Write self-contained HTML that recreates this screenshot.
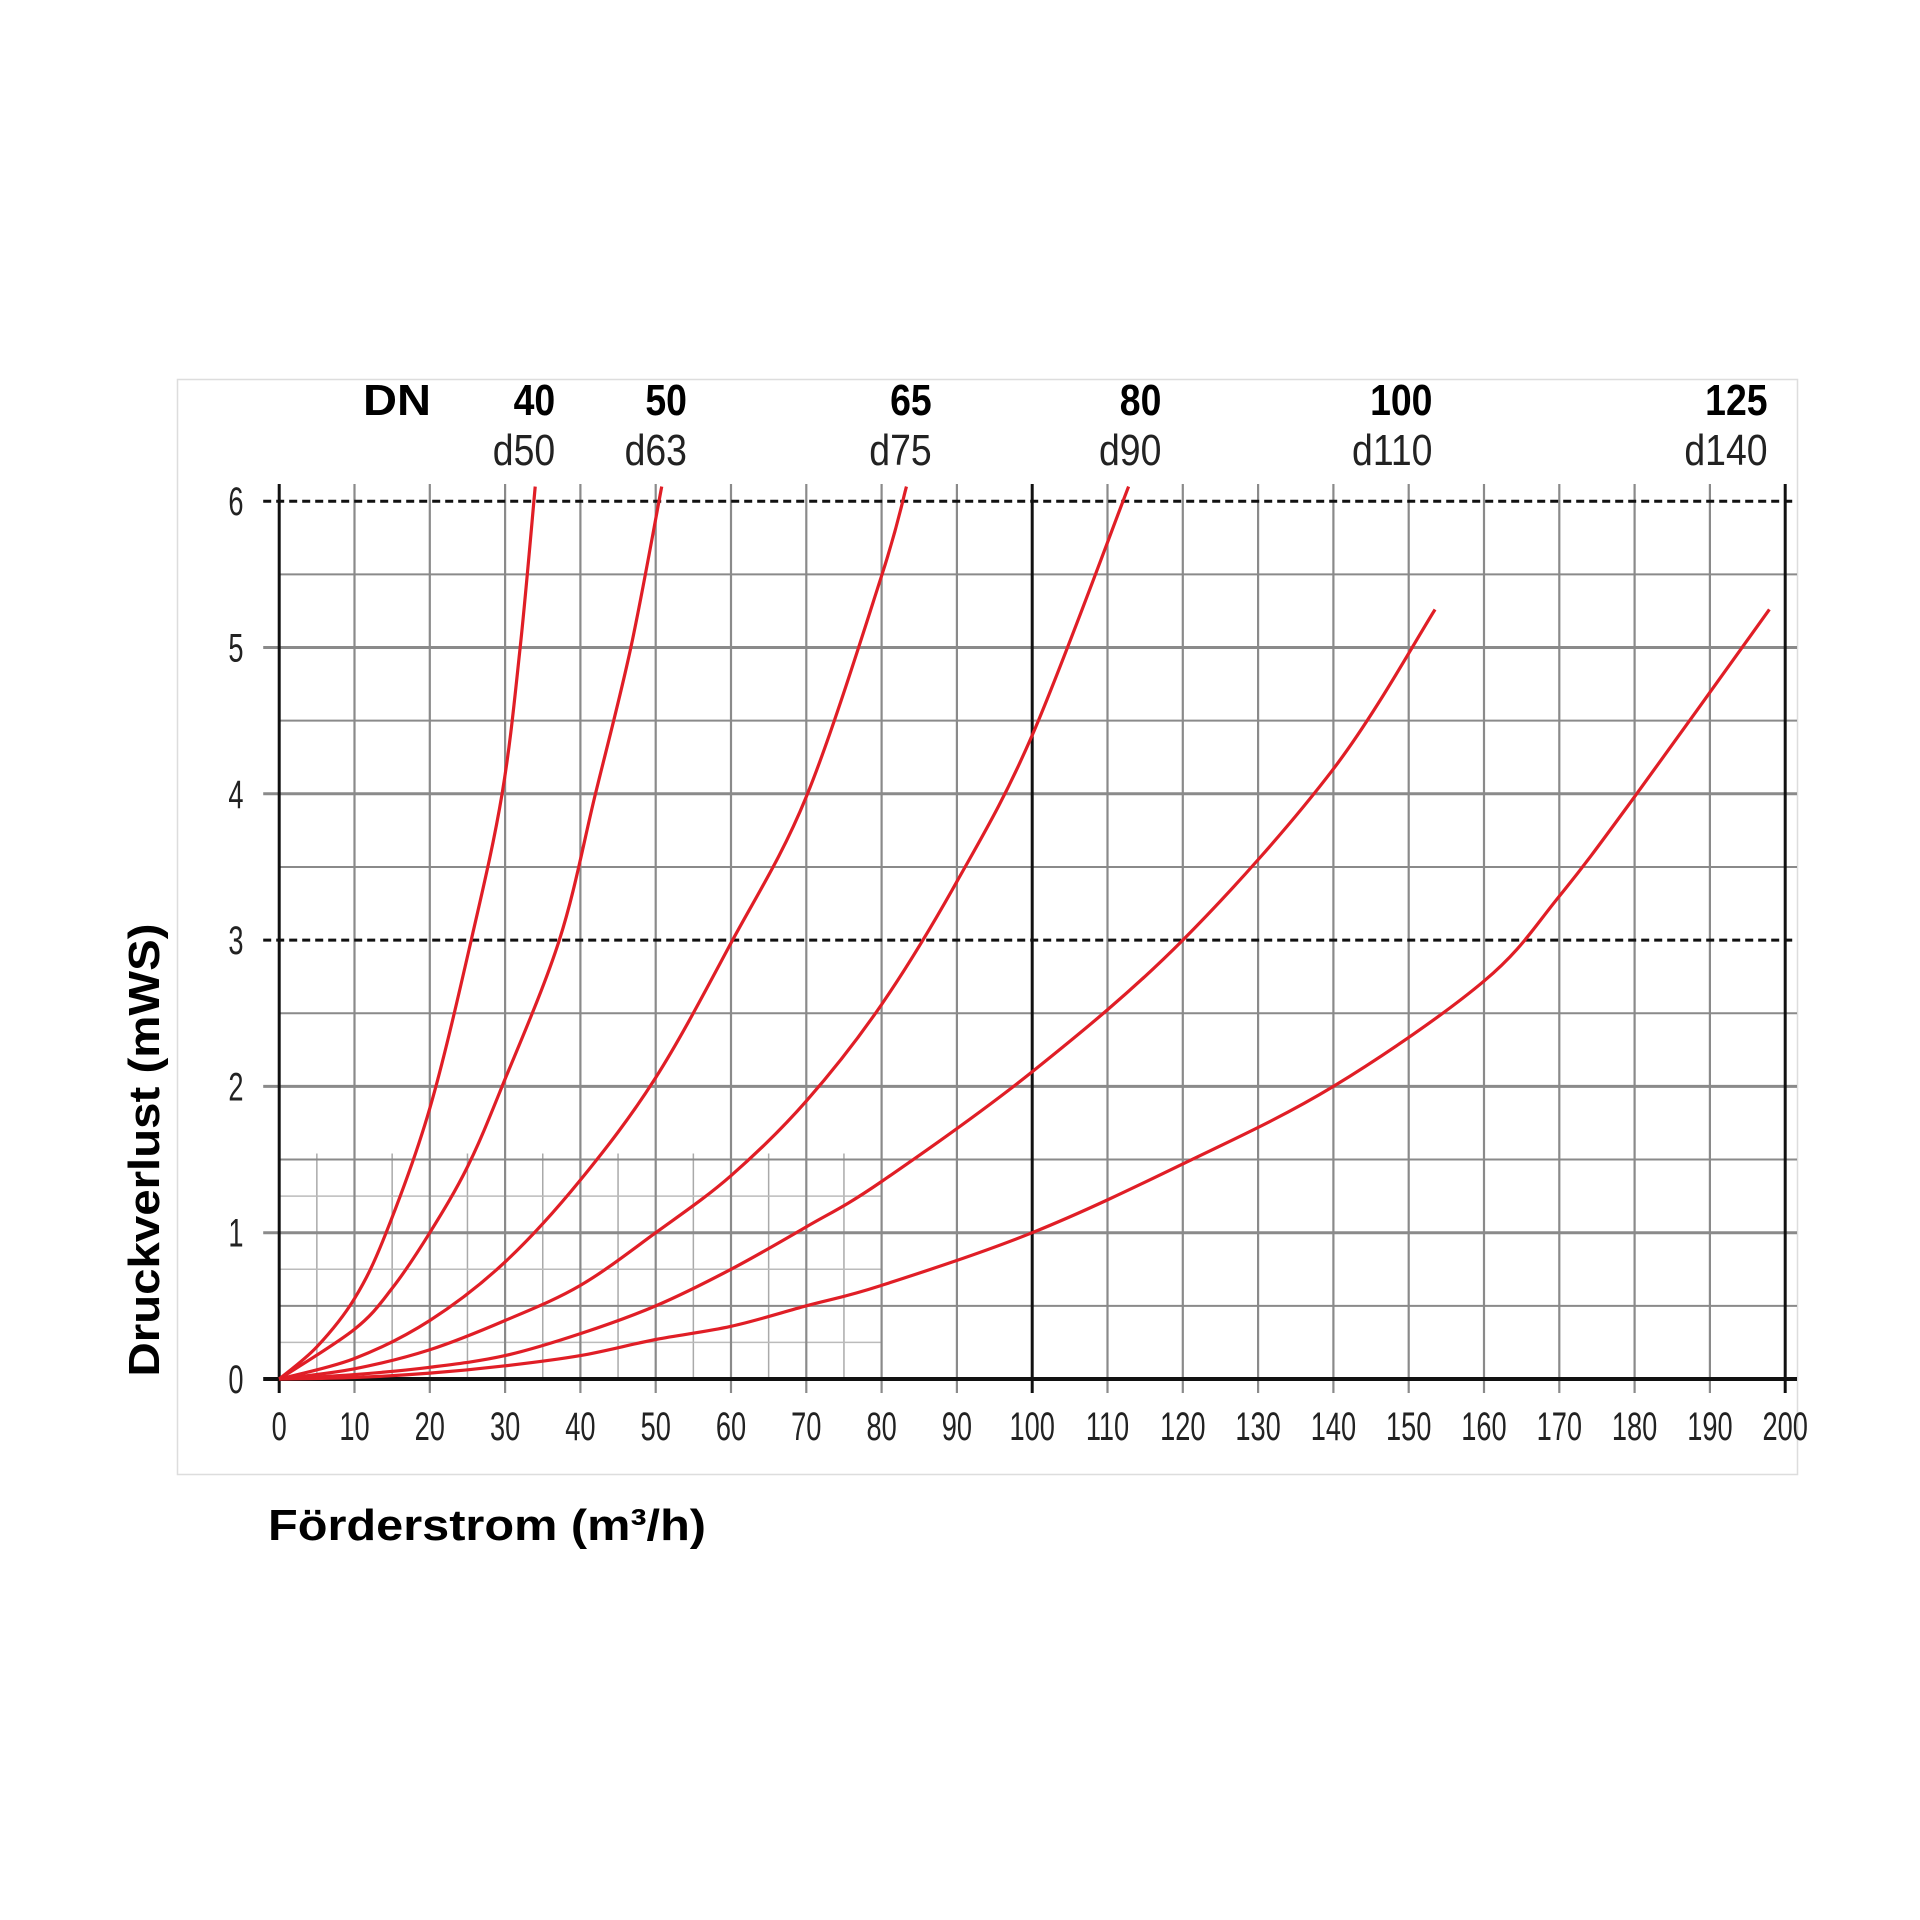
<!DOCTYPE html>
<html><head><meta charset="utf-8"><style>html,body{margin:0;padding:0;background:#fff}svg{display:block}</style></head>
<body>
<svg id="chart" width="1920" height="1920" viewBox="0 0 1920 1920" xmlns="http://www.w3.org/2000/svg" font-family="Liberation Sans, sans-serif">
<rect x="177.5" y="379.5" width="1620" height="1095" fill="#fff" stroke="#ddd" stroke-width="1.5"/>
<g id="grid"></g>
<g id="curves"></g>
<g id="labels"></g>
<text x="268" y="1540" font-size="44" font-weight="bold" textLength="438" lengthAdjust="spacingAndGlyphs">Förderstrom (m³/h)</text>
<text transform="translate(159,1150) rotate(-90)" text-anchor="middle" font-size="44" font-weight="bold" textLength="453" lengthAdjust="spacingAndGlyphs">Druckverlust (mWS)</text>
<text x="431" y="415" font-size="44" font-weight="bold" text-anchor="end" textLength="68" lengthAdjust="spacingAndGlyphs">DN</text>
</svg>
<script>
const xTicks=[0,10,20,30,40,50,60,70,80,90,100,110,120,130,140,150,160,170,180,190,200];
const yTicks=[0,1,2,3,4,5,6];
const dnLabels=["40","50","65","80","100","125"];
const dLabels=["d50","d63","d75","d90","d110","d140"];
const labelX=[34,51.5,84,114.5,150.5,195];
const q50=[0,5,10,14.2,20,25.5,29.6,32,34];
const p50=[0,0.22,0.55,1,1.85,3,4,5,6.1];
const q63=[0,10,15,20,25,29.6,37.2,42,46.7,50.8];
const p63=[0,0.34,0.62,1,1.45,2,3,4,5,6.1];
const q75=[0,10,20,30,40,50,60,70,80,83.3];
const p75=[0,0.14,0.4,0.8,1.36,2.06,2.98,3.98,5.49,6.1];
const q90=[0,10,20,30,40,50,60,70,80,90,100,112.8];
const p90=[0,0.07,0.2,0.4,0.64,1,1.39,1.9,2.56,3.4,4.4,6.1];
const q110=[0,10,20,30,40,50,60,70,80,100,120,140,153.5];
const p110=[0,0.03,0.08,0.16,0.31,0.5,0.75,1.04,1.35,2.1,3,4.17,5.26];
const q140=[0,10,20,30,40,50,60,70,80,100,120,140,160,170,180,197.9];
const p140=[0,0.01,0.04,0.09,0.16,0.27,0.36,0.5,0.64,1,1.47,2,2.72,3.3,3.98,5.26];
const series=[[q50,p50],[q63,p63],[q75,p75],[q90,p90],[q110,p110],[q140,p140]];
const NS="http://www.w3.org/2000/svg";
const X=v=>279.2+v*7.53, Y=v=>1379-v*146.3;
function mk(tag,attrs,parent){const e=document.createElementNS(NS,tag);for(const k in attrs)e.setAttribute(k,attrs[k]);parent.appendChild(e);return e;}
const grid=document.getElementById('grid'),cur=document.getElementById('curves'),lab=document.getElementById('labels');
for(let v=5;v<80;v+=10){const l=mk('line',{x1:X(v),x2:X(v),y1:Y(1.5)-6,y2:Y(0),stroke:'#aaa','stroke-width':1.5},grid);}
for(const v of [0.25,0.75,1.25]){const l=mk('line',{x1:X(0),x2:X(80),y1:Y(v),y2:Y(v),stroke:'#bbb','stroke-width':1.5},grid);}
for(let v=0.5;v<6;v+=0.5){if(v===3)continue;const l=mk('line',{x1:(Number.isInteger(v)?X(0)-16:X(0)),x2:1797,y1:Y(v),y2:Y(v),stroke:'#8a8a8a','stroke-width':Number.isInteger(v)?3:2},grid);}
xTicks.forEach(v=>{const major=(v%100===0);const l=mk('line',{x1:X(v),x2:X(v),y1:484,y2:Y(0)+14,stroke:major?'#111':'#8a8a8a','stroke-width':major?3:2.2},grid);
const t=mk('text',{x:X(v),y:1440,'font-size':40,'text-anchor':'middle',fill:'#222',transform:`translate(${X(v)},0) scale(0.68,1) translate(${-X(v)},0)`},lab);t.textContent=v;});
for(const v of [3,6]){const l=mk('line',{x1:X(0)-16,x2:1797,y1:Y(v),y2:Y(v),stroke:'#111','stroke-width':3,'stroke-dasharray':'8,5'},grid);}
const ax=mk('line',{x1:X(0)-16,x2:1797,y1:Y(0),y2:Y(0),stroke:'#111','stroke-width':4},grid);
yTicks.forEach(v=>{const t=mk('text',{x:236,y:Y(v)+14,'font-size':40,'text-anchor':'middle',fill:'#222',transform:`translate(236,0) scale(0.68,1) translate(-236,0)`},lab);t.textContent=v;});
function path(qs,ps){const pts=qs.map((q,i)=>[X(q),Y(ps[i])]);let d=`M${pts[0][0]},${pts[0][1]}`;for(let i=0;i<pts.length-1;i++){const p0=pts[i-1]||pts[i],p1=pts[i],p2=pts[i+1],p3=pts[i+2]||p2;const c1=[p1[0]+(p2[0]-p0[0])/6,p1[1]+(p2[1]-p0[1])/6],c2=[p2[0]-(p3[0]-p1[0])/6,p2[1]-(p3[1]-p1[1])/6];d+=` C${c1[0]},${c1[1]} ${c2[0]},${c2[1]} ${p2[0]},${p2[1]}`;}return d;}
series.forEach((s,i)=>{const p=mk('path',{d:path(s[0],s[1]),fill:'none',stroke:'#e01e26','stroke-width':3.2},cur);});
dnLabels.forEach((s,i)=>{const x=X(labelX[i])+20;const t=mk('text',{x:x,y:415,'font-size':44,'font-weight':'bold','text-anchor':'end',transform:`translate(${x},0) scale(0.85,1) translate(${-x},0)`},lab);t.textContent=s;
const u=mk('text',{x:x,y:465,'font-size':44,'text-anchor':'end',fill:'#222',transform:`translate(${x},0) scale(0.85,1) translate(${-x},0)`},lab);u.textContent=dLabels[i];});
</script>
</body></html>
